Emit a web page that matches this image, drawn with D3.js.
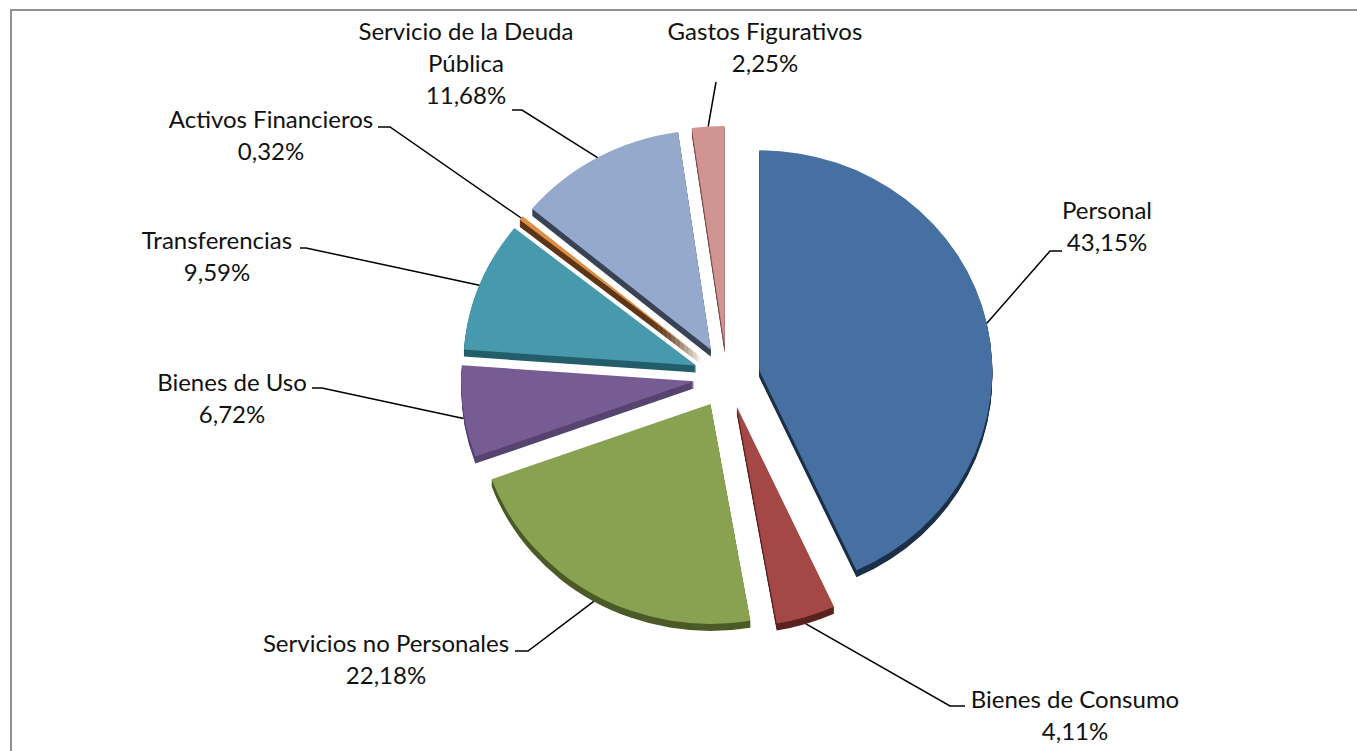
<!DOCTYPE html>
<html>
<head>
<meta charset="utf-8">
<script src="https://cdn.jsdelivr.net/npm/d3@7"></script>
<style>
  body { margin: 0; background: #fff; }
  svg { display: block; }
</style>
</head>
<body>
<div id="chart"></div>
<script>
// datos del gráfico
const categories = ["Personal", "Bienes de Consumo", "Servicios no Personales", "Bienes de Uso",
  "Transferencias", "Activos Financieros", "Servicio de la Deuda Pública", "Gastos Figurativos"];
const values = [43.15, 4.11, 22.18, 6.72, 9.59, 0.32, 11.68, 2.25];
const labelLines = [["Personal"], ["Bienes de Consumo"], ["Servicios no Personales"], ["Bienes de Uso"],
  ["Transferencias"], ["Activos Financieros"], ["Servicio de la Deuda", "Pública"], ["Gastos Figurativos"]];

const topColors = ["#4570a1", "#a44845", "#89a251", "#765c93", "#479aae", "#de8d44", "#95a9cd", "#d09493"];
const sideColors = ["#1d3049", "#5a2220", "#4c5b27", "#574470", "#245e6b", "#5c3617", "#384355", "#7b4c4b"];

// posición de etiquetas: centro x, primera línea base y, inicio y codo del conector
const labelPos = [
  { x: 1107, y: 219, lx: 1062, ly: 251, bx: 1050 },
  { x: 1075, y: 708, lx: 965, ly: 706, bx: 950 },
  { x: 386, y: 652, lx: 515, ly: 651, bx: 528 },
  { x: 232, y: 391, lx: 312, ly: 388, bx: 322 },
  { x: 217, y: 249, lx: 300, ly: 248, bx: 306 },
  { x: 271, y: 128, lx: 378, ly: 127, bx: 390 },
  { x: 466, y: 40, lx: 512, ly: 110, bx: 522 },
  { x: 765, y: 40, lx: 716, ly: 82, bx: 716 }
];

const width = 1357;
const height = 751;
const cx = 727, cy = 377;
const rx = 233;
const k = 220 / 233;     // inclinación
const explode = 33;
const depth = 7;
const lineH = 32;

const svg = d3.select("#chart").append("svg")
  .attr("width", width)
  .attr("height", height);

// borde del área del gráfico
svg.append("rect")
  .attr("x", 11)
  .attr("y", 10)
  .attr("width", 1400)
  .attr("height", 800)
  .attr("fill", "none")
  .attr("stroke", "#929292")
  .attr("stroke-width", 2);

const arcs = d3.pie().sort(null).value(d => d)(values);
const arc = d3.arc().innerRadius(0).outerRadius(rx);

const offset = a => {
  const mid = (a.startAngle + a.endAngle) / 2;
  return [explode * Math.sin(mid), -explode * Math.cos(mid), mid];
};

// caras laterales
const sides = svg.append("g");
arcs.forEach((a, i) => {
  const [ox, oy] = offset(a);
  for (let dy = depth; dy >= 1; dy--) {
    sides.append("path")
      .attr("transform", `translate(${cx},${cy + dy}) scale(1,${k}) translate(${ox},${oy})`)
      .attr("d", arc(a))
      .attr("fill", sideColors[i]);
  }
});

// caras superiores
const tops = svg.append("g");
arcs.forEach((a, i) => {
  const [ox, oy] = offset(a);
  tops.append("path")
    .attr("transform", `translate(${cx},${cy}) scale(1,${k}) translate(${ox},${oy})`)
    .attr("d", arc(a))
    .attr("fill", topColors[i]);
});

// conectores
const fmt = v => d3.format(".2f")(v).replace(".", ",") + "%";
arcs.forEach((a, i) => {
  const [ox, oy, mid] = offset(a);
  const px = cx + ox + rx * Math.sin(mid);
  let py = cy + k * (oy - rx * Math.cos(mid));
  if (Math.cos(mid) < 0) py += depth;
  const p = labelPos[i];
  svg.append("path")
    .attr("d", d3.line()([[p.lx, p.ly], [p.bx, p.ly], [px, py]]))
    .attr("fill", "none")
    .attr("stroke", "#000")
    .attr("stroke-width", 1.5);
});

// etiquetas
arcs.forEach((a, i) => {
  const p = labelPos[i];
  const lines = labelLines[i].concat([fmt(values[i])]);
  const t = svg.append("text")
    .attr("text-anchor", "middle")
    .style("font-family", "Lato, 'Open Sans', sans-serif")
    .style("font-size", "24px")
    .style("fill", "#111");
  lines.forEach((s, j) => {
    t.append("tspan")
      .attr("x", p.x)
      .attr("y", p.y + j * lineH)
      .text(s);
  });
});
</script>
</body>
</html>
